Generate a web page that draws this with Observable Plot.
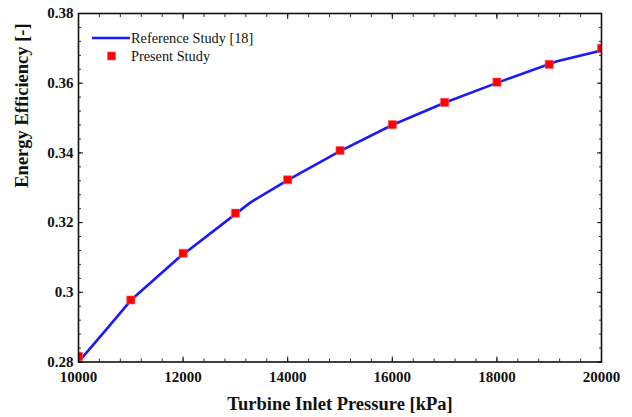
<!DOCTYPE html>
<html>
<head>
<meta charset="utf-8">
<script src="https://cdn.jsdelivr.net/npm/d3@7"></script>
<script src="https://cdn.jsdelivr.net/npm/@observablehq/plot@0.6"></script>
<style>
  html, body { margin: 0; padding: 0; background: #fff; }
  #wrap { position: relative; width: 632px; height: 417px; }
  #legend { position: absolute; left: 0; top: 0; pointer-events: none; }
</style>
</head>
<body>
<div id="wrap"></div>
<script>
// Reference Study [18] (line)
const refPressure = [10000, 10570, 11000, 11900, 13290, 14000, 15000, 16000, 17000, 18000, 19150, 20000];
const refEfficiency = [0.2800, 0.2900, 0.2977, 0.3097, 0.3258, 0.3322, 0.3405, 0.3480, 0.3544, 0.3601, 0.3663, 0.3694];

// Present Study (squares)
const presentPressure = [10000, 11000, 12000, 13000, 14000, 15000, 16000, 17000, 18000, 19000, 20000];
const presentEfficiency = [0.2816, 0.2978, 0.3112, 0.3227, 0.3323, 0.3407, 0.3481, 0.3545, 0.3603, 0.3654, 0.3700];

// Axis ticks
const xMajorTicks = [10000, 12000, 14000, 16000, 18000, 20000];
const xMinorTicks = d3.range(10000, 20001, 400);
const yMajorTicks = [0.28, 0.30, 0.32, 0.34, 0.36, 0.38];
const yMinorTicks = d3.range(0, 26).map(i => +(0.28 + i * 0.004).toFixed(3));

const seriesNames = ["Reference Study [18]", "Present Study"];
const xTitle = "Turbine Inlet Pressure [kPa]";
const yTitle = "Energy Efficiency [-]";

const refData = refPressure.map((p, i) => ({p, e: refEfficiency[i]}));
const presentData = presentPressure.map((p, i) => ({p, e: presentEfficiency[i]}));

const blue = "#1a1aff";
const red = "#ff0000";
const blank = () => "";

const chart = Plot.plot({
  width: 632,
  height: 417,
  marginLeft: 78,
  marginRight: 31,
  marginTop: 13,
  marginBottom: 55.5,
  style: {fontFamily: "'Liberation Serif', 'Times New Roman', serif", background: "#fff", color: "#000"},
  x: {domain: [10000, 20000], label: null},
  y: {domain: [0.28, 0.38], label: null},
  marks: [
    Plot.line(refData, {x: "p", y: "e", stroke: blue, strokeWidth: 2.6, clip: true}),
    Plot.dot(presentData, {x: "p", y: "e", symbol: "square", r: 4.6, fill: red, stroke: "#ff6060", strokeWidth: 0.6, clip: true}),
    // minor ticks (inward)
    Plot.axisX(xMinorTicks, {anchor: "bottom", tickSize: -3, tickFormat: blank, label: null, stroke: "#333"}),
    Plot.axisX(xMinorTicks, {anchor: "top", tickSize: -3, tickFormat: blank, label: null, stroke: "#333"}),
    Plot.axisY(yMinorTicks, {anchor: "left", tickSize: -3, tickFormat: blank, label: null, stroke: "#333"}),
    Plot.axisY(yMinorTicks, {anchor: "right", tickSize: -3, tickFormat: blank, label: null, stroke: "#333"}),
    // major ticks (inward)
    Plot.axisX(xMajorTicks, {anchor: "bottom", tickSize: -5, tickFormat: blank, label: null, stroke: "#111"}),
    Plot.axisX(xMajorTicks, {anchor: "top", tickSize: -5, tickFormat: blank, label: null, stroke: "#111"}),
    Plot.axisY(yMajorTicks, {anchor: "left", tickSize: -5, tickFormat: blank, label: null, stroke: "#111"}),
    Plot.axisY(yMajorTicks, {anchor: "right", tickSize: -5, tickFormat: blank, label: null, stroke: "#111"}),
    // tick labels
    Plot.axisX(xMajorTicks, {anchor: "bottom", tickSize: 0, tickPadding: 9, tickFormat: d => String(d), label: null, fontSize: 15, fontWeight: "bold", fill: "#111"}),
    Plot.axisY(yMajorTicks, {anchor: "left", tickSize: 0, tickPadding: 5, tickFormat: d => String(+d.toFixed(3)), label: null, fontSize: 15, fontWeight: "bold", fill: "#111"}),
    // axis titles
    Plot.text([xTitle], {text: d => d, frameAnchor: "bottom", dy: 42, lineAnchor: "middle", fontSize: 18.5, fontWeight: "bold", fill: "#111"}),
    Plot.text([yTitle], {text: d => d, frameAnchor: "left", dx: -56, rotate: -90, lineAnchor: "middle", fontSize: 18.5, fontWeight: "bold", fill: "#111"}),
    Plot.frame({stroke: "#111", strokeWidth: 1.6})
  ]
});

const wrap = document.getElementById("wrap");
wrap.appendChild(chart);

// Legend overlay (inside the plot area, top-left)
const ns = "http://www.w3.org/2000/svg";
const leg = document.createElementNS(ns, "svg");
leg.setAttribute("id", "legend");
leg.setAttribute("width", 632);
leg.setAttribute("height", 417);
leg.innerHTML = `
  <line x1="92" y1="38" x2="130" y2="38" stroke="${blue}" stroke-width="2.6"/>
  <rect x="107.5" y="52" width="8" height="8" fill="${red}" stroke="#ff6060" stroke-width="0.6"/>
  <text x="131" y="43" font-family="'Liberation Serif', 'Times New Roman', serif" font-size="14.3" fill="#111">${seriesNames[0]}</text>
  <text x="131" y="61" font-family="'Liberation Serif', 'Times New Roman', serif" font-size="14.3" fill="#111">${seriesNames[1]}</text>
`;
wrap.appendChild(leg);
</script>
</body>
</html>
